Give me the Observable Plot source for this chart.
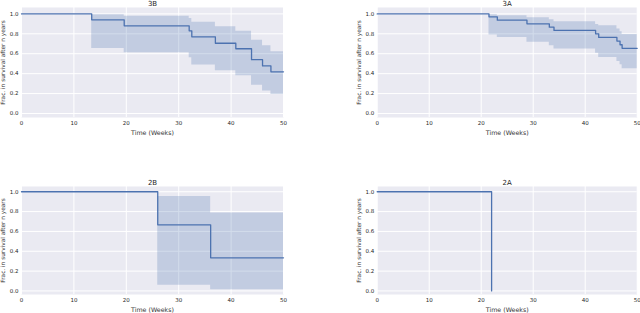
<!DOCTYPE html>
<html><head><meta charset="utf-8">
<script src="https://cdn.jsdelivr.net/npm/d3@7"></script>
<script src="https://cdn.jsdelivr.net/npm/@observablehq/plot@0.6"></script>
<style>
body{margin:0;background:#fff;}
#wrap{position:relative;width:640px;height:313px;overflow:hidden;}
.panel{position:absolute;}
</style></head>
<body><div id="wrap"></div>
<script>
// Panel titles
const titles = ["3B", "3A", "2B", "2A"];
const xTicks = [0, 10, 20, 30, 40, 50];
const yTicks = [0, 0.2, 0.4, 0.6, 0.8, 1.0];
const xLabel = "Time (Weeks)";
const yLabel = "Frac. in survival after n years";

// 3B
const t3B     = [0, 13.4, 19.6, 32.0, 32.5, 37.0, 40.9, 43.9, 46.0, 47.6, 50];
const s3B     = [1, 0.94, 0.88, 0.83, 0.77, 0.705, 0.65, 0.54, 0.478, 0.418, 0.418];
const up3B    = [1, 0.99, 0.975, 0.954, 0.915, 0.87, 0.826, 0.736, 0.679, 0.62, 0.62];
const lo3B    = [1, 0.653, 0.609, 0.56, 0.488, 0.43, 0.378, 0.284, 0.226, 0.19, 0.19];
// 3A
const t3A     = [0, 21.5, 23.1, 28.8, 33.1, 34.0, 42.0, 42.6, 46.1, 46.7, 47.1, 50];
const s3A     = [1, 0.97, 0.937, 0.90, 0.867, 0.834, 0.80, 0.764, 0.727, 0.69, 0.654, 0.654];
const up3A    = [1, 0.99, 0.98, 0.96, 0.94, 0.92, 0.894, 0.88, 0.847, 0.82, 0.794, 0.794];
const lo3A    = [1, 0.787, 0.764, 0.714, 0.68, 0.647, 0.606, 0.563, 0.523, 0.49, 0.45, 0.45];
// 2B
const t2B     = [0, 26.0, 36.1, 50];
const s2B     = [1, 0.667, 0.334, 0.334];
const up2B    = [1, 0.953, 0.785, 0.785];
const lo2B    = [1, 0.057, 0.013, 0.013];
// 2A
const t2A     = [0, 22.0];
const s2A     = [1, 0];

const BLUE = "#4C72B0";
const FONT = "DejaVu Sans, sans-serif";

function rows(t, s, up, lo) {
  return t.map((x, i) => ({t: x, s: s[i], up: up ? up[i] : null, lo: lo ? lo[i] : null}));
}

const panels = [
  {title: titles[0], data: rows(t3B, s3B, up3B, lo3B), band: true, left: 0, top: 0, width: 290, height: 140, mL: 21, mR: 7, mT: 7, mB: 23, yd: [-0.04, 1.064]},
  {title: titles[1], data: rows(t3A, s3A, up3A, lo3A), band: true, left: 340, top: 0, width: 300, height: 140, mL: 36.7, mR: 3.3, mT: 7, mB: 23, yd: [-0.04, 1.064]},
  {title: titles[2], data: rows(t2B, s2B, up2B, lo2B), band: true, left: 0, top: 176, width: 290, height: 137, mL: 21, mR: 7, mT: 10, mB: 19, yd: [-0.036, 1.053]},
  {title: titles[3], data: rows(t2A, s2A), band: false, left: 340, top: 176, width: 300, height: 137, mL: 36.7, mR: 3.3, mT: 10, mB: 19, yd: [-0.036, 1.053]}
];

const wrap = document.getElementById("wrap");
for (const p of panels) {
  const marks = [
    Plot.frame({fill: "#EAEAF2", stroke: null}),
    Plot.gridX(xTicks, {stroke: "#fff", strokeOpacity: 1, strokeWidth: 1}),
    Plot.gridY(yTicks, {stroke: "#fff", strokeOpacity: 1, strokeWidth: 1}),
  ];
  if (p.band) {
    marks.push(Plot.areaY(p.data, {x: "t", y1: "lo", y2: "up", curve: "step-after", fill: BLUE, fillOpacity: 0.25}));
  }
  marks.push(
    Plot.line(p.data, {x: "t", y: "s", curve: "step-after", stroke: BLUE, strokeWidth: 1.3}),
    Plot.axisX(xTicks, {tickSize: 0, tickPadding: 4, fontSize: 5.5, fill: "#262626", tickFormat: d3.format("d")}),
    Plot.axisY(yTicks, {tickSize: 0, tickPadding: 3, fontSize: 5.5, fill: "#262626", tickFormat: d3.format(".1f")}),
    Plot.text([p.title], {frameAnchor: "top", dy: -3.8, text: d => d, fontSize: 7, fill: "#262626", lineAnchor: "middle"}),
    Plot.text([xLabel], {frameAnchor: "bottom", dy: 15, text: d => d, fontSize: 6.3, fill: "#333", lineAnchor: "middle"}),
    Plot.text([yLabel], {frameAnchor: "left", dx: -18.5, rotate: -90, textAnchor: "middle", text: d => d, fontSize: 5.8, fill: "#333", lineAnchor: "middle"})
  );
  const svg = Plot.plot({
    width: p.width, height: p.height,
    marginLeft: p.mL, marginRight: p.mR, marginTop: p.mT, marginBottom: p.mB,
    style: {fontFamily: FONT, background: "transparent", overflow: "visible"},
    x: {domain: [0, 50], label: null},
    y: {domain: p.yd, label: null},
    marks
  });
  svg.classList.add("panel");
  svg.style.left = p.left + "px";
  svg.style.top = p.top + "px";
  svg.style.position = "absolute";
  wrap.appendChild(svg);
}
</script>
</body></html>
